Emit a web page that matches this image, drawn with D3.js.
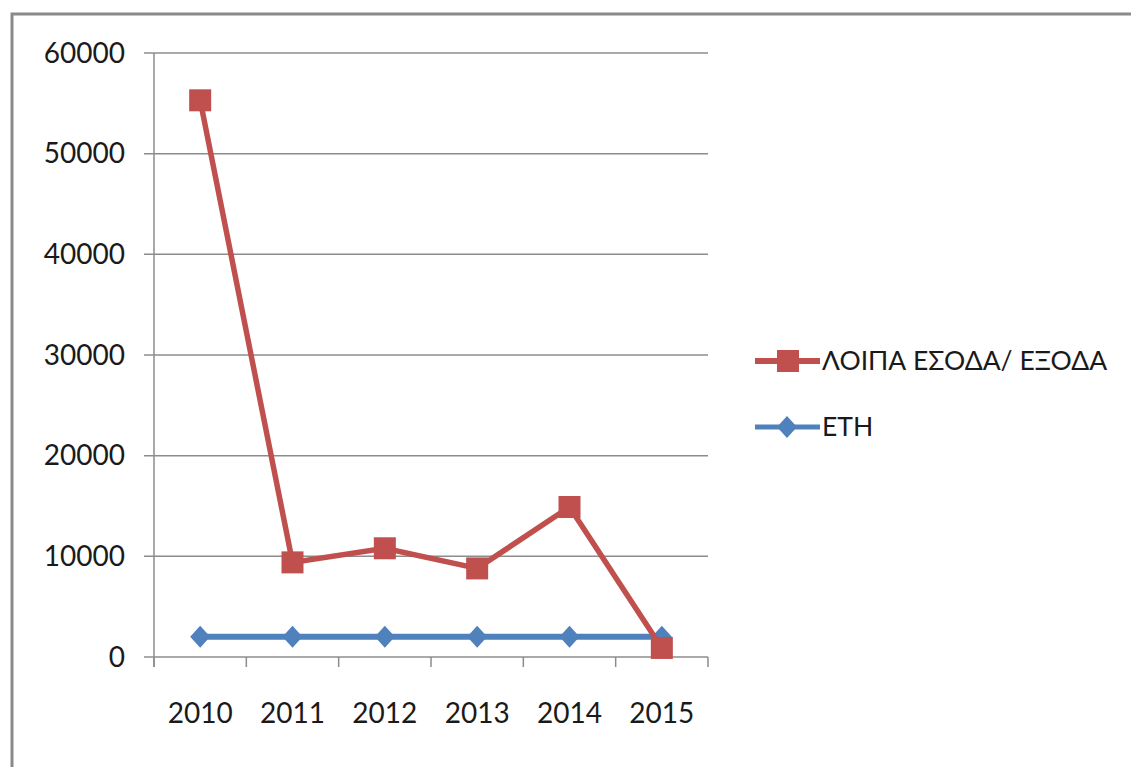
<!DOCTYPE html>
<html><head><meta charset="utf-8">
<script src="https://cdn.jsdelivr.net/npm/d3@7"></script>
<style>
html,body{margin:0;padding:0;background:#fff;}
svg text{font-family:Lato,"Open Sans",sans-serif;fill:#1a1a1a;}
</style></head>
<body><svg id="c" width="1131" height="767"></svg>
<script>
const years = ["2010","2011","2012","2013","2014","2015"];
const loipa = [55300, 9400, 10800, 8800, 14900, 900];
const eth = [2010, 2011, 2012, 2013, 2014, 2015];
const yTicks = [0,10000,20000,30000,40000,50000,60000];
const seriesNames = ["ΛΟΙΠΑ ΕΣΟΔΑ/ ΕΞΟΔΑ", "ΕΤΗ"];

const svg = d3.select("#c");
// outer frame
svg.append("path").attr("d","M12,767 V14 H1131").attr("fill","none").attr("stroke","#8a8a8a").attr("stroke-width",3);

const L=154, R=708, T=53, B=657;
const x = d3.scaleBand().domain(years).range([L,R]);
const y = d3.scaleLinear().domain([0,60000]).range([B,T]);

// gridlines
svg.append("g").selectAll("line").data(yTicks).join("line")
  .attr("x1",L-10).attr("x2",R).attr("y1",d=>y(d)).attr("y2",d=>y(d))
  .attr("stroke","#8c8c8c").attr("stroke-width",1.5);
// y axis line
svg.append("line").attr("x1",L).attr("x2",L).attr("y1",T).attr("y2",B+10).attr("stroke","#8c8c8c").attr("stroke-width",1.5);
// x ticks
const bounds = years.map(d=>x(d)).concat([R]);
svg.append("g").selectAll("line").data(bounds).join("line")
  .attr("x1",d=>d).attr("x2",d=>d).attr("y1",B).attr("y2",B+10)
  .attr("stroke","#8c8c8c").attr("stroke-width",1.5);
// y labels
svg.append("g").selectAll("text").data(yTicks).join("text")
  .attr("x",125).attr("y",d=>y(d)).attr("dy","0.35em").attr("text-anchor","end")
  .attr("font-size",28).text(d=>d);
// x labels
svg.append("g").selectAll("text").data(years).join("text")
  .attr("x",d=>x(d)+x.bandwidth()/2).attr("y",713).attr("dy","0.35em").attr("text-anchor","middle")
  .attr("font-size",28).text(d=>d);

const cx = d=>x(d)+x.bandwidth()/2;
const line = d3.line().x((d,i)=>cx(years[i])).y(d=>y(d));
const red="#C0504D", blue="#4F81BD";

svg.append("path").datum(eth).attr("d",line).attr("fill","none").attr("stroke",blue).attr("stroke-width",6);
svg.append("g").selectAll("path").data(eth).join("path")
  .attr("transform",(d,i)=>`translate(${cx(years[i])},${y(d)})`)
  .attr("d","M0,-11 L10,0 L0,11 L-10,0Z").attr("fill",blue);

svg.append("path").datum(loipa).attr("d",line).attr("fill","none").attr("stroke",red).attr("stroke-width",5.5);
svg.append("g").selectAll("rect").data(loipa).join("rect")
  .attr("x",(d,i)=>cx(years[i])-11).attr("y",d=>y(d)-11).attr("width",22).attr("height",22).attr("fill",red);

// legend
const lg = [{n:seriesNames[0],c:red,s:"sq",yy:361},{n:seriesNames[1],c:blue,s:"di",yy:427}];
const g = svg.append("g");
lg.forEach(o=>{
  g.append("line").attr("x1",755).attr("x2",820).attr("y1",o.yy).attr("y2",o.yy).attr("stroke",o.c).attr("stroke-width",o.s==="sq"?6:5);
  if(o.s==="sq") g.append("rect").attr("x",777).attr("y",o.yy-11).attr("width",22).attr("height",22).attr("fill",o.c);
  else g.append("path").attr("transform",`translate(787,${o.yy})`).attr("d","M0,-11 L10,0 L0,11 L-10,0Z").attr("fill",o.c);
  g.append("text").attr("x",822).attr("y",o.yy).attr("dy","0.35em").attr("font-size",26.5).text(o.n);
});
</script></body></html>
